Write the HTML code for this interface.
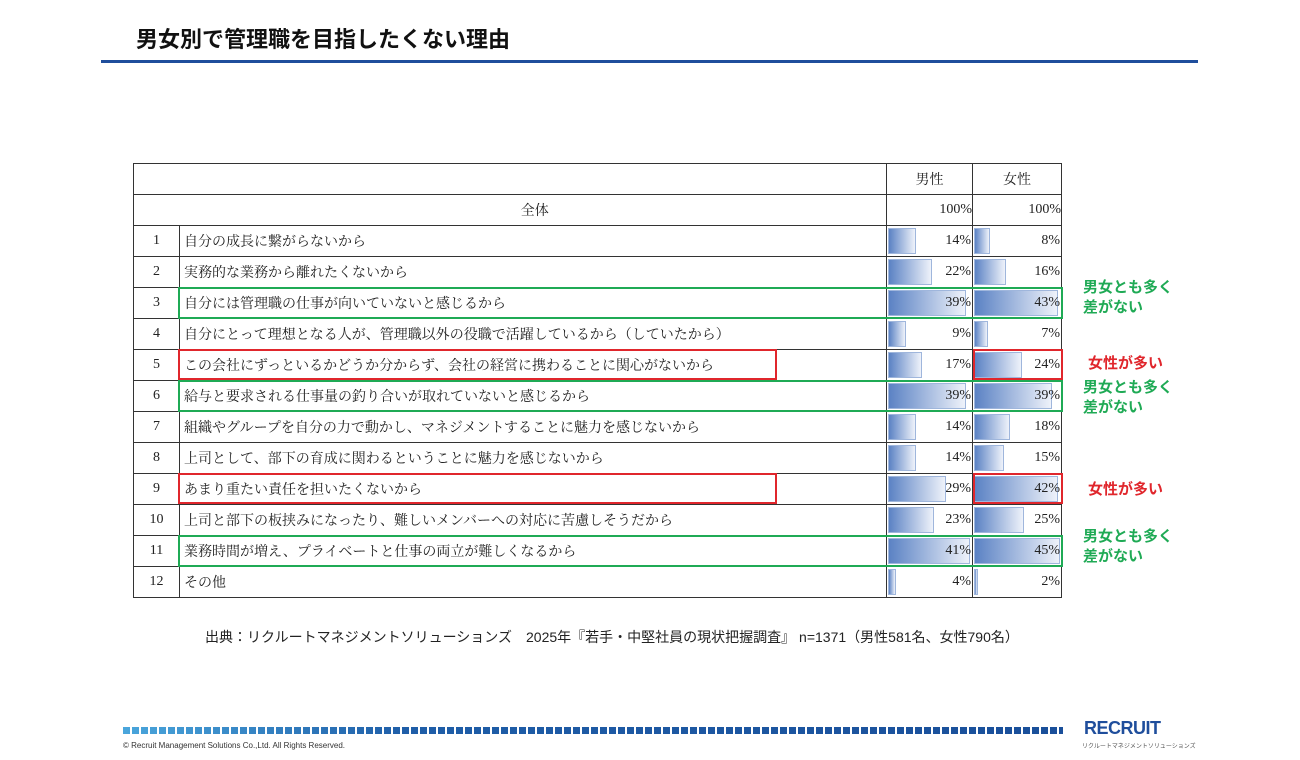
<!DOCTYPE html>
<html><head><meta charset="utf-8"><style>
body{margin:0;width:1300px;height:760px;background:#fff;position:relative;overflow:hidden;font-family:"Liberation Sans","Noto Sans CJK JP",sans-serif}
.t{position:absolute;left:136px;top:22px;font-size:22px;font-weight:bold;color:#111}
.hl{position:absolute;left:101px;top:60px;width:1097px;height:3px;background:#1f4e9c}
table{position:absolute;left:133px;top:163px;border-collapse:collapse;font-family:"Liberation Serif","Noto Serif CJK JP",serif;font-size:14px;color:#222}
td{border:1px solid #333;height:30px;padding:0;position:relative}
td.n{width:45px;text-align:center}
td.x{padding-left:4px;width:702px}
td.m{width:85px;text-align:right}
td.f{width:88px;text-align:right}
.b{position:absolute;left:1px;top:2px;bottom:2px;background:linear-gradient(90deg,#5b82c4,#eef2fa);border:1px solid #9fb6dc;box-sizing:border-box}
.v{position:relative;padding-right:1px}
.bx{position:absolute;box-sizing:border-box;border:2px solid}
.g{border-color:#1faa55}.r{border-color:#e0262c}
.lab{position:absolute;font-weight:bold;font-size:15px;line-height:20px}
</style></head><body>
<div class="t">男女別で管理職を目指したくない理由</div>
<div class="hl"></div>
<table>
<tr><td class="n" style="border-right:none"></td><td class="x" style="border-left:none"></td><td class="m" style="text-align:center">男性</td><td class="f" style="text-align:center">女性</td></tr>
<tr><td class="n" style="border-right:none"></td><td class="x" style="border-left:none;text-align:center">全体</td><td class="m">100%</td><td class="f">100%</td></tr>
<tr><td class="n">1</td><td class="x">自分の成長に繋がらないから</td><td class="m"><div class="b" style="width:28px"></div><span class="v">14%</span></td><td class="f"><div class="b" style="width:16px"></div><span class="v">8%</span></td></tr>
<tr><td class="n">2</td><td class="x">実務的な業務から離れたくないから</td><td class="m"><div class="b" style="width:44px"></div><span class="v">22%</span></td><td class="f"><div class="b" style="width:32px"></div><span class="v">16%</span></td></tr>
<tr><td class="n">3</td><td class="x">自分には管理職の仕事が向いていないと感じるから</td><td class="m"><div class="b" style="width:78px"></div><span class="v">39%</span></td><td class="f"><div class="b" style="width:84px"></div><span class="v">43%</span></td></tr>
<tr><td class="n">4</td><td class="x">自分にとって理想となる人が、管理職以外の役職で活躍しているから（していたから）</td><td class="m"><div class="b" style="width:18px"></div><span class="v">9%</span></td><td class="f"><div class="b" style="width:14px"></div><span class="v">7%</span></td></tr>
<tr><td class="n">5</td><td class="x">この会社にずっといるかどうか分からず、会社の経営に携わることに関心がないから</td><td class="m"><div class="b" style="width:34px"></div><span class="v">17%</span></td><td class="f"><div class="b" style="width:48px"></div><span class="v">24%</span></td></tr>
<tr><td class="n">6</td><td class="x">給与と要求される仕事量の釣り合いが取れていないと感じるから</td><td class="m"><div class="b" style="width:78px"></div><span class="v">39%</span></td><td class="f"><div class="b" style="width:78px"></div><span class="v">39%</span></td></tr>
<tr><td class="n">7</td><td class="x">組織やグループを自分の力で動かし、マネジメントすることに魅力を感じないから</td><td class="m"><div class="b" style="width:28px"></div><span class="v">14%</span></td><td class="f"><div class="b" style="width:36px"></div><span class="v">18%</span></td></tr>
<tr><td class="n">8</td><td class="x">上司として、部下の育成に関わるということに魅力を感じないから</td><td class="m"><div class="b" style="width:28px"></div><span class="v">14%</span></td><td class="f"><div class="b" style="width:30px"></div><span class="v">15%</span></td></tr>
<tr><td class="n">9</td><td class="x">あまり重たい責任を担いたくないから</td><td class="m"><div class="b" style="width:58px"></div><span class="v">29%</span></td><td class="f"><div class="b" style="width:84px"></div><span class="v">42%</span></td></tr>
<tr><td class="n">10</td><td class="x">上司と部下の板挟みになったり、難しいメンバーへの対応に苦慮しそうだから</td><td class="m"><div class="b" style="width:46px"></div><span class="v">23%</span></td><td class="f"><div class="b" style="width:50px"></div><span class="v">25%</span></td></tr>
<tr><td class="n">11</td><td class="x">業務時間が増え、プライベートと仕事の両立が難しくなるから</td><td class="m"><div class="b" style="width:82px"></div><span class="v">41%</span></td><td class="f"><div class="b" style="width:86px"></div><span class="v">45%</span></td></tr>
<tr><td class="n">12</td><td class="x">その他</td><td class="m"><div class="b" style="width:8px"></div><span class="v">4%</span></td><td class="f"><div class="b" style="width:4px"></div><span class="v">2%</span></td></tr>
</table>
<div class="bx g" style="left:178px;top:287px;width:885px;height:32px"></div>
<div class="bx r" style="left:178px;top:349px;width:599px;height:31px"></div>
<div class="bx r" style="left:973px;top:349px;width:90px;height:31px"></div>
<div class="bx g" style="left:178px;top:380px;width:885px;height:32px"></div>
<div class="bx r" style="left:178px;top:473px;width:599px;height:31px"></div>
<div class="bx r" style="left:973px;top:473px;width:90px;height:31px"></div>
<div class="bx g" style="left:178px;top:535px;width:885px;height:32px"></div>
<div class="lab" style="left:1083px;top:278px;color:#1faa55">男女とも多く<br>差がない</div>
<div class="lab" style="left:1088px;top:354px;color:#e0262c">女性が多い</div>
<div class="lab" style="left:1083px;top:378px;color:#1faa55">男女とも多く<br>差がない</div>
<div class="lab" style="left:1088px;top:480px;color:#e0262c">女性が多い</div>
<div class="lab" style="left:1083px;top:527px;color:#1faa55">男女とも多く<br>差がない</div>
<div style="position:absolute;left:205px;top:627px;font-size:14px;color:#222">出典：リクルートマネジメントソリューションズ　2025年『若手・中堅社員の現状把握調査』 n=1371（男性581名、女性790名）</div>
<div style="position:absolute;left:123px;top:727px;width:940px;height:7px;background:repeating-linear-gradient(90deg,transparent 0 7px,#fff 7px 9px),linear-gradient(90deg,#4aa6dc,#1f5ea8 30%,#1a4f9a)"></div>
<div style="position:absolute;left:123px;top:741px;font-size:8px;color:#333">© Recruit Management Solutions Co.,Ltd. All Rights Reserved.</div>
<div style="position:absolute;left:1084px;top:718px;font-size:18px;font-weight:bold;color:#1f4e9c;letter-spacing:-0.5px">RECRUIT</div>
<div style="position:absolute;left:1082px;top:741px;font-size:6px;color:#555">リクルートマネジメントソリューションズ</div>
</body></html>
